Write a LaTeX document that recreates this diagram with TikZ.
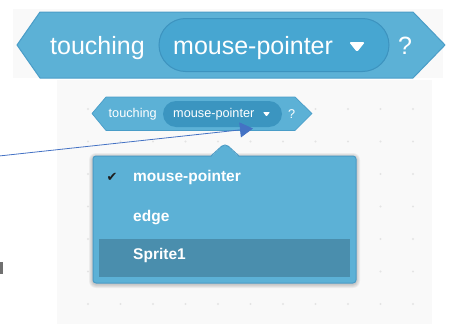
\documentclass[tikz,border=0pt]{standalone}
\usepackage{fontspec}
\setmainfont{Liberation Sans}
\newfontfamily\symfont{DejaVu Sans}
\usetikzlibrary{arrows.meta}

\definecolor{blockfill}{HTML}{5CB1D6}
\definecolor{blockedge}{HTML}{4A9DC8}
\definecolor{pillfill}{HTML}{47A6D1}
\definecolor{pilledge}{HTML}{3D93BF}
\definecolor{smallpill}{HTML}{3B95C0}
\definecolor{canvas}{HTML}{F9F9F9}
\definecolor{griddot}{HTML}{E4E4E4}
\definecolor{menufill}{HTML}{5CB1D6}
\definecolor{menuedge}{HTML}{4A9BC6}
\definecolor{menuhi}{HTML}{4A8EAD}
\definecolor{pointer}{HTML}{4472C4}
\definecolor{checkc}{HTML}{1E1E1E}
\definecolor{edgemark}{HTML}{707070}

\tikzset{
  bigtext/.style={anchor=base west, inner sep=0, text=white, font=\fontsize{25}{30}\selectfont},
  smalltext/.style={anchor=base west, inner sep=0, text=white, font=\fontsize{12.7}{15}\selectfont},
  menutext/.style={anchor=base west, inner sep=0, text=white, font=\bfseries\fontsize{15.5}{18}\selectfont},
  hexblock/.style={draw=blockedge, fill=blockfill, line join=round},
}

\begin{document}
\begin{tikzpicture}[x=1pt,y=-1pt]
\useasboundingbox (0,0) rectangle (451,324);

% light backdrops of the two screenshots
\fill[canvas] (13,9) rectangle (443,78);
\fill[canvas] (57,80) rectangle (432,324);

% workspace grid dots
\foreach \gx in {88,120.5,...,414}
  \foreach \gy in {109,141.5,...,305}
    \fill[griddot] (\gx,\gy) circle (1.1);

% large boolean block
\draw[hexblock, line width=1] (17,45) -- (40,12) -- (413,12) -- (445,45) -- (413,78) -- (40,78) -- cycle;
\draw[pilledge, fill=pillfill, line width=1, rounded corners=26.5] (159,18.5) rectangle (389,71.5);
\node[bigtext] (bigtouch) at (50,55) {touching};
\node[bigtext] (bigmouse) at (173,55) {mouse-pointer};
\node[bigtext] (bigq) at (398,54) {?};
\fill[white, rounded corners=1.5] (349,42) -- (365,42) -- (357,52) -- cycle;

% small boolean block on the workspace
\draw[hexblock, line width=0.7] (92,113.5) -- (106,97) -- (295,97) -- (312,113.5) -- (295,130.5) -- (106,130.5) -- cycle;
\fill[smallpill, rounded corners=13] (163,101) rectangle (282,127);
\node[smalltext] (smalltouch) at (108.5,117.5) {touching};
\node[smalltext] (smallmouse) at (173,117.5) {mouse-pointer};
\node[smalltext] (smallq) at (288,118) {?};
\fill[white, rounded corners=0.8] (263,112) -- (270,112) -- (266.5,116.5) -- cycle;

% dropdown menu shadow
\foreach \s in {4,3,2,1}
  \fill[black, opacity=0.05, rounded corners=3+\s] (93-\s,156-\s+1) rectangle (356+\s,283+\s+1);

% dropdown menu body with its pointer
\draw[menuedge, fill=menufill, rounded corners=3, line width=1] (93,156) rectangle (356,283);
\fill[menufill] (211,157) -- (223,145.5) -- (227,145.5) -- (239,157) -- cycle;
\draw[menuedge, line width=1, rounded corners=2] (211,156) -- (223,145) -- (227,145) -- (239,156);
\fill[menuhi] (99,239) rectangle (350,277);

\node[anchor=base west, inner sep=0, text=checkc, font=\symfont\fontsize{13}{16}\selectfont] (check) at (106.5,182) {✔};
\node[menutext] (optmouse) at (133,182) {mouse-pointer};
\node[menutext] (optedge) at (133,221) {edge};
\node[menutext] (optsprite) at (133,259) {Sprite1};

% pointer arrow onto the small block
\coordinate (from) at (-1,156);
\coordinate (tip) at (253,128.5);
\draw[pointer, line width=0.8, -{Triangle[length=13pt,width=15pt]}] (from) -- (tip);

% clipped mark at the left border
\fill[edgemark] (0,262) rectangle (2.5,274);
\end{tikzpicture}
\end{document}
